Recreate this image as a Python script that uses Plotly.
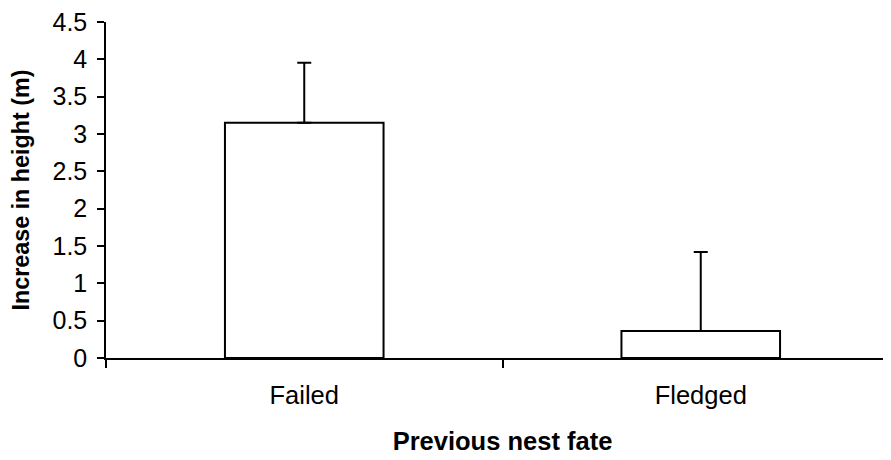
import plotly.graph_objects as go

categories = ["Failed", "Fledged"]
means = [3.15, 0.36]
upper = [3.955, 1.42]
y_ticks = [0, 0.5, 1, 1.5, 2, 2.5, 3, 3.5, 4, 4.5]
y_tick_labels = ["0", "0.5", "1", "1.5", "2", "2.5", "3", "3.5", "4", "4.5"]

err_plus = [u - m for u, m in zip(upper, means)]

FONT = "Liberation Sans, Arial, sans-serif"

fig = go.Figure()
fig.add_trace(go.Bar(
    x=categories,
    y=means,
    width=0.4,
    marker=dict(color="white", line=dict(color="black", width=2)),
    error_y=dict(type="data", symmetric=False, array=err_plus,
                 arrayminus=[0] * len(means),
                 color="black", thickness=2, width=7),
    showlegend=False,
))

fig.update_layout(
    width=891, height=460,
    margin=dict(l=98, r=0, t=14, b=110),
    paper_bgcolor="white", plot_bgcolor="white",
    font=dict(family=FONT, color="black", size=24),
    xaxis=dict(
        type="category",
        range=[-0.5, 1.5],
        automargin=False,
        showline=True, linecolor="black", linewidth=1.5,
        ticks="outside", ticklen=8, tickcolor="black", tickwidth=1.5,
        tickson="boundaries",
        ticklabelstandoff=14,
        ticklabeloverflow="allow",
        showgrid=False, zeroline=False,
        tickfont=dict(size=25.5, family=FONT),
        title=dict(text="<b>Previous nest fate</b>", font=dict(size=25.5, family=FONT), standoff=24),
    ),
    yaxis=dict(
        range=[0, 4.5],
        automargin=False,
        tickvals=y_ticks, ticktext=y_tick_labels,
        showline=True, linecolor="black", linewidth=1.5,
        ticks="outside", ticklen=7, tickcolor="black", tickwidth=1.5,
        ticklabelstandoff=5,
        ticklabeloverflow="allow",
        showgrid=False, zeroline=False,
        tickfont=dict(size=25, family=FONT),
        title=dict(text="<b>Increase in height (m)</b>", font=dict(size=23.3, family=FONT), standoff=16),
    ),
)

fig.write_html("out.html")
